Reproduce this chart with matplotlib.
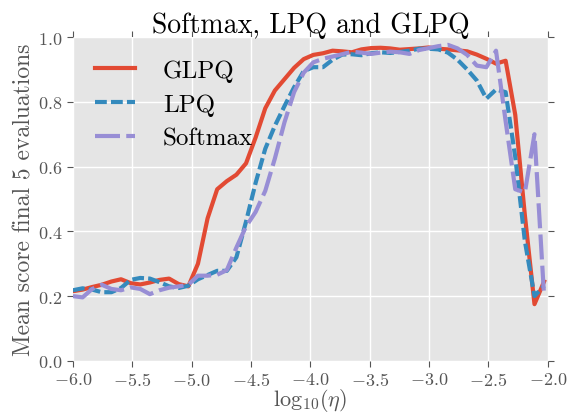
import matplotlib
matplotlib.use("Agg")
import matplotlib.pyplot as plt

plt.style.use("ggplot")
plt.rcParams["font.family"] = "serif"
plt.rcParams["font.serif"] = ["cmr10", "DejaVu Serif"]
plt.rcParams["mathtext.fontset"] = "cm"
plt.rcParams["axes.formatter.use_mathtext"] = True
plt.rcParams["lines.scale_dashes"] = False

# log10(eta) grid
log_eta = [-6.0, -5.919, -5.838, -5.757, -5.676, -5.595, -5.514, -5.433, -5.352, -5.271,
           -5.19, -5.109, -5.028, -4.947, -4.866, -4.785, -4.704, -4.623, -4.542, -4.461,
           -4.38, -4.299, -4.218, -4.137, -4.056, -3.975, -3.894, -3.813, -3.732, -3.651,
           -3.57, -3.489, -3.408, -3.327, -3.246, -3.165, -3.084, -3.003, -2.922, -2.841,
           -2.76, -2.679, -2.598, -2.517, -2.436, -2.355, -2.274, -2.193, -2.112, -2.031]

glpq = [0.215, 0.22, 0.228, 0.235, 0.245, 0.252, 0.24, 0.236, 0.242, 0.25,
        0.254, 0.237, 0.23, 0.30, 0.44, 0.53, 0.555, 0.575, 0.61, 0.69,
        0.78, 0.835, 0.87, 0.905, 0.932, 0.945, 0.95, 0.958, 0.956, 0.953,
        0.962, 0.966, 0.967, 0.965, 0.961, 0.963, 0.965, 0.968, 0.964, 0.962,
        0.959, 0.956, 0.946, 0.933, 0.918, 0.927, 0.76, 0.45, 0.175, 0.245]

lpq = [0.218, 0.224, 0.22, 0.212, 0.212, 0.225, 0.25, 0.256, 0.254, 0.243,
       0.23, 0.225, 0.232, 0.252, 0.265, 0.278, 0.278, 0.32, 0.43, 0.55,
       0.655, 0.726, 0.787, 0.845, 0.895, 0.907, 0.907, 0.93, 0.946, 0.947,
       0.944, 0.95, 0.953, 0.951, 0.954, 0.958, 0.964, 0.964, 0.962, 0.952,
       0.93, 0.9, 0.866, 0.81, 0.838, 0.83, 0.63, 0.37, 0.2, 0.232]

softmax = [0.2, 0.196, 0.222, 0.235, 0.222, 0.218, 0.227, 0.222, 0.206, 0.218,
           0.226, 0.23, 0.235, 0.263, 0.263, 0.266, 0.28, 0.35, 0.415, 0.46,
           0.525, 0.625, 0.737, 0.83, 0.89, 0.922, 0.933, 0.94, 0.947, 0.955,
           0.952, 0.948, 0.952, 0.955, 0.953, 0.948, 0.96, 0.966, 0.972, 0.976,
           0.965, 0.945, 0.912, 0.907, 0.958, 0.74, 0.53, 0.52, 0.70, 0.2]

fig = plt.figure(figsize=(5.7, 4.14), dpi=100)
ax = fig.add_axes([0.128, 0.126, 0.833, 0.782])

ax.plot(log_eta, glpq, color="#E24A33", lw=3, label="GLPQ")
ax.plot(log_eta, lpq, color="#348ABD", lw=3, dashes=(8.5, 3), label="LPQ")
ax.plot(log_eta, softmax, color="#988ED5", lw=3, dashes=(18, 4.5), label="Softmax")

ax.set_xlim(-6, -2)
ax.set_ylim(0, 1)
ax.set_xticks([-6, -5.5, -5, -4.5, -4, -3.5, -3, -2.5, -2])
ax.set_yticks([0, 0.2, 0.4, 0.6, 0.8, 1.0])
ax.xaxis.set_major_formatter(matplotlib.ticker.FormatStrFormatter("$%.1f$"))
ax.yaxis.set_major_formatter(matplotlib.ticker.FormatStrFormatter("$%.1f$"))
ax.tick_params(direction="out", colors="#555555", labelsize=13, length=4,
               top=True, right=True, labeltop=False, labelright=False)
for s in ax.spines.values():
    s.set_visible(False)
ax.grid(True, color="white", lw=1)

ax.set_title("Softmax, LPQ and GLPQ", fontsize=20, color="black", pad=4)
ax.set_xlabel(r"$\mathrm{log}_{10}(\eta)$", fontsize=16, color="#555555", labelpad=-1.5)
ax.set_ylabel("Mean score final 5 evaluations", fontsize=17, color="#555555", labelpad=2)

leg = ax.legend(loc="upper left", fontsize=18, frameon=False, handlelength=1.6,
                handletextpad=1.1, labelspacing=0.45, borderaxespad=0.5)

fig.savefig("out.png", dpi=100)
